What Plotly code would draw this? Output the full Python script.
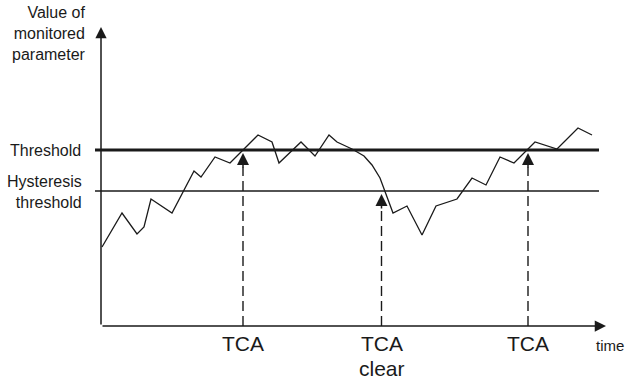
import plotly.graph_objects as go

# Monitored parameter over time (arbitrary units, origin at the axes corner)
time = [1, 21, 36, 43, 50, 71, 93, 100, 114, 129, 157, 171, 178, 200, 214,
        228, 236, 251, 263, 271, 279, 292, 306, 321, 335, 356, 371, 385, 399,
        413, 434, 456, 477, 491]
value = [79, 113, 92, 99, 127, 113, 155, 149, 169, 163, 191, 184, 163, 184,
         170, 191, 184, 177, 170, 161, 148, 113, 120, 91, 120, 127, 148, 141,
         169, 163, 184, 177, 198, 191]

threshold = 176
hysteresis = 135

# Events: time at which they fire, level they point to, label lines
event_time = [142, 280.5, 427]
event_level = [173, 132, 173]
event_label = [["TCA"], ["TCA", "clear"], ["TCA"]]

INK = "#1a1a1a"
FONT = "Liberation Sans, Arial, sans-serif"

fig = go.Figure()

fig.add_trace(
    go.Scatter(
        x=time,
        y=value,
        mode="lines",
        line=dict(color=INK, width=1.3),
        hoverinfo="skip",
        showlegend=False,
    )
)

# threshold lines
fig.add_shape(type="line", x0=-6, x1=498, y0=threshold, y1=threshold,
              line=dict(color=INK, width=3))
fig.add_shape(type="line", x0=-6, x1=498, y0=hysteresis, y1=hysteresis,
              line=dict(color=INK, width=1.4))

# axes with arrows
fig.add_annotation(x=0, y=299, ax=0, ay=0, xref="x", yref="y", axref="x",
                   ayref="y", showarrow=True, arrowhead=2, arrowsize=1.5,
                   arrowwidth=1.5, arrowcolor=INK, text="")
fig.add_annotation(x=505, y=0, ax=0, ay=0, xref="x", yref="y", axref="x",
                   ayref="y", showarrow=True, arrowhead=2, arrowsize=1.5,
                   arrowwidth=1.5, arrowcolor=INK, text="")

# dashed event arrows
for t, lvl, lines in zip(event_time, event_level, event_label):
    fig.add_shape(type="line", x0=t, x1=t, y0=0, y1=lvl - 14,
                  line=dict(color=INK, width=1.4, dash="10px,5px"))
    fig.add_annotation(x=t, y=lvl, ax=t, ay=lvl - 16, xref="x", yref="y",
                       axref="x", ayref="y", showarrow=True, arrowhead=2,
                       arrowsize=1.6, arrowwidth=1.5, arrowcolor=INK, text="")
    for i, lab in enumerate(lines):
        fig.add_annotation(x=t, y=-4 - 24.5 * i, text=lab, showarrow=False,
                           xanchor="center", yanchor="top",
                           font=dict(size=21, color=INK, family=FONT))

fig.add_annotation(x=493, y=-9, text="time", showarrow=False, xanchor="left",
                   yanchor="top", font=dict(size=15, color=INK, family=FONT))

fig.add_annotation(x=-13, y=324, text="Value of<br>monitored<br>parameter",
                   showarrow=False, xanchor="right", yanchor="top",
                   align="right", font=dict(size=16, color=INK, family=FONT))
fig.add_annotation(x=-18, y=threshold, text="Threshold", showarrow=False,
                   xanchor="right", yanchor="middle",
                   font=dict(size=16, color=INK, family=FONT))
fig.add_annotation(x=-17, y=hysteresis - 1, text="Hysteresis<br>threshold",
                   showarrow=False, xanchor="right", yanchor="middle",
                   align="right", font=dict(size=16, color=INK, family=FONT))

fig.update_layout(
    width=625,
    height=380,
    margin=dict(l=0, r=0, t=0, b=0),
    paper_bgcolor="#ffffff",
    plot_bgcolor="#ffffff",
    xaxis=dict(range=[-101, 524], visible=False, fixedrange=True),
    yaxis=dict(range=[-54, 326], visible=False, fixedrange=True),
)

# drop the default 8px page margin so the figure sits at the window corner
fig.write_html(
    "out.html",
    config={"displayModeBar": False},
    post_script="document.body.style.margin = '0';",
)
